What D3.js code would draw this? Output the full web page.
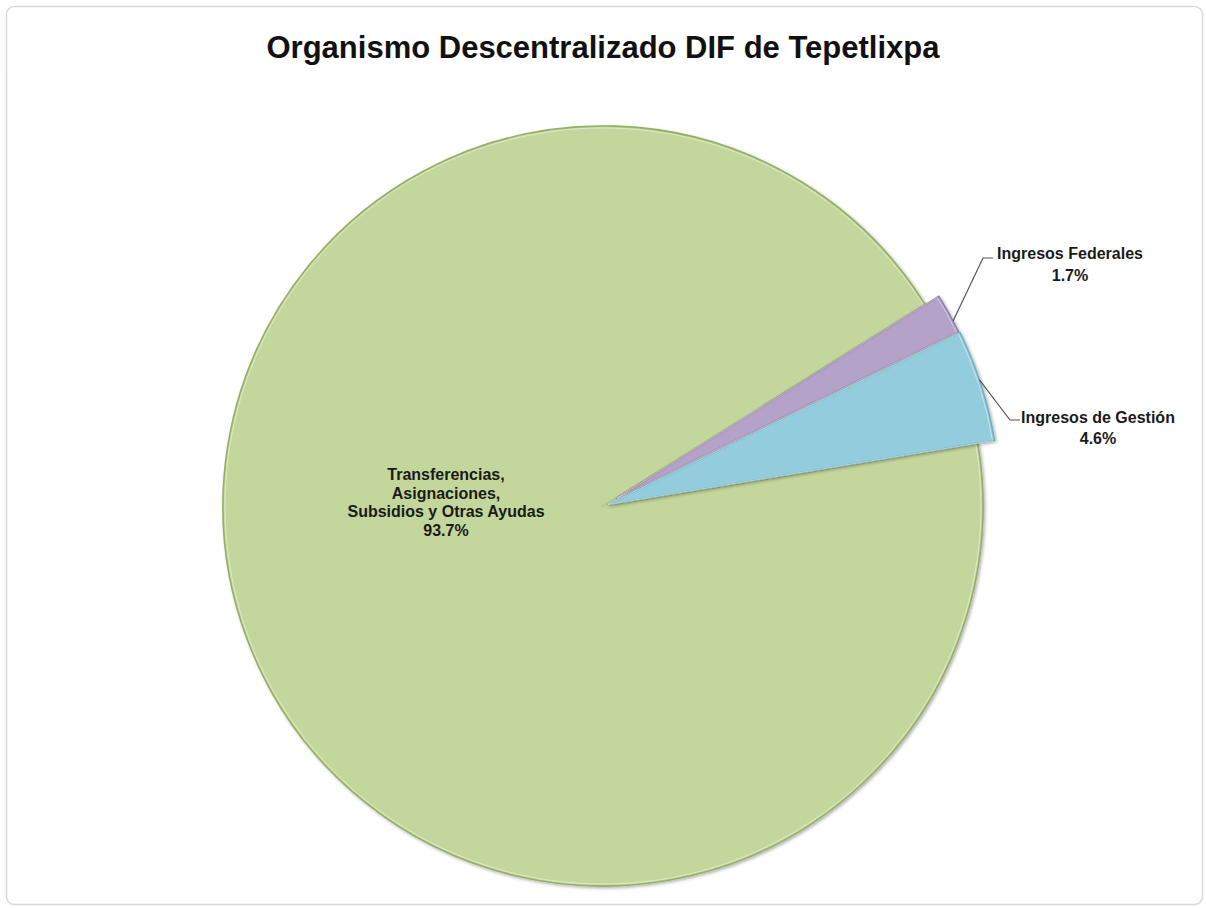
<!DOCTYPE html>
<html>
<head>
<meta charset="utf-8">
<script src="https://cdn.jsdelivr.net/npm/d3@7"></script>
<style>
  html, body { margin: 0; padding: 0; background: #ffffff; }
  svg { display: block; }
</style>
</head>
<body>
<svg id="chart" width="1206" height="908"></svg>
<script>
// ---- data ----
const title = "Organismo Descentralizado DIF de Tepetlixpa";
const categories = ["Ingresos Federales", "Ingresos de Gestión", "Transferencias, Asignaciones, Subsidios y Otras Ayudas"];
const values = [1.7, 4.6, 93.7];
const valueLabels = ["1.7%", "4.6%", "93.7%"];
const labelLines = [
  ["Ingresos Federales"],
  ["Ingresos de Gestión"],
  ["Transferencias,", "Asignaciones,", "Subsidios y Otras Ayudas"]
];

// ---- style / layout ----
const W = 1206, H = 908;
const cx = 603, cy = 506;
const fills = ["#b4a2c9", "#93cddd", "#c3d69b"];
const strokes = ["#8f7fa6", "#6fb0c2", "#97ae66"];
const explode = [16, 5, 0];
const radii = [380, 392, 380];
const startDeg = 57.9;

const svg = d3.select("#chart");

const defs = svg.append("defs");
const f = defs.append("filter").attr("id", "shadow")
  .attr("x", "-10%").attr("y", "-10%").attr("width", "120%").attr("height", "120%");
f.append("feDropShadow").attr("dx", 1.5).attr("dy", 1.5).attr("stdDeviation", 1.5)
  .attr("flood-color", "#000").attr("flood-opacity", 0.3);

// frame
svg.append("rect")
  .attr("x", 6.5).attr("y", 6.5).attr("width", W - 10).attr("height", H - 10)
  .attr("rx", 8).attr("ry", 8)
  .attr("fill", "#ffffff").attr("stroke", "#d9d9d9").attr("stroke-width", 1.5);

// title
svg.append("text")
  .attr("x", 603).attr("y", 58)
  .attr("text-anchor", "middle")
  .attr("font-family", "Liberation Sans, Arial, sans-serif")
  .attr("font-weight", "bold")
  .attr("font-size", 31)
  .attr("fill", "#111")
  .text(title);

const start = startDeg * Math.PI / 180;
const pie = d3.pie().sort(null).startAngle(start).endAngle(start + 2 * Math.PI);
const arcsData = pie(values);

const g = svg.append("g").attr("transform", `translate(${cx},${cy})`);

const order = [2, 0, 1];
order.forEach(i => {
  const d = arcsData[i];
  const mid = (d.startAngle + d.endAngle) / 2;
  const ox = Math.sin(mid) * explode[i];
  const oy = -Math.cos(mid) * explode[i];
  const arc = d3.arc().innerRadius(0).outerRadius(radii[i]);
  g.append("path")
    .attr("transform", `translate(${ox},${oy})`)
    .attr("d", arc(d))
    .attr("fill", fills[i])
    .attr("stroke", strokes[i])
    .attr("stroke-width", 1.6)
    .attr("stroke-linejoin", "round")
    .attr("filter", "url(#shadow)");
  // inner highlight
  g.append("path")
    .attr("transform", `translate(${ox},${oy})`)
    .attr("d", d3.arc().innerRadius(0).outerRadius(radii[i] - 2)(d))
    .attr("fill", "none")
    .attr("stroke", "#ffffff")
    .attr("stroke-opacity", 0.45)
    .attr("stroke-width", 1);
});

// labels
const font = "Liberation Sans, Arial, sans-serif";
function labelBlock(lines, x, y, step) {
  const t = svg.append("text")
    .attr("text-anchor", "middle")
    .attr("font-family", font)
    .attr("font-weight", "bold")
    .attr("font-size", 16)
    .attr("fill", "#1a1a1a");
  lines.forEach((ln, k) => {
    t.append("tspan").attr("x", x).attr("y", y + k * step).text(ln);
  });
}

function edgePoint(i, angleFrac) {
  const d = arcsData[i];
  const mid = (d.startAngle + d.endAngle) / 2;
  const a = d.startAngle + (d.endAngle - d.startAngle) * angleFrac;
  const ox = Math.sin(mid) * explode[i];
  const oy = -Math.cos(mid) * explode[i];
  return [cx + ox + Math.sin(a) * radii[i], cy + oy - Math.cos(a) * radii[i]];
}

const p0 = edgePoint(0, 0.7);
svg.append("polyline")
  .attr("points", [p0, [983, 258], [993, 258]].map(p => p.join(",")).join(" "))
  .attr("fill", "none").attr("stroke", "#555").attr("stroke-width", 1.2);
labelBlock(labelLines[0].concat([valueLabels[0]]), 1070, 259, 22);

const p1 = edgePoint(1, 0.45);
svg.append("polyline")
  .attr("points", [p1, [1010, 420], [1020, 420]].map(p => p.join(",")).join(" "))
  .attr("fill", "none").attr("stroke", "#555").attr("stroke-width", 1.2);
labelBlock(labelLines[1].concat([valueLabels[1]]), 1098, 423, 21);

labelBlock(labelLines[2].concat([valueLabels[2]]), 446, 480, 18.5);
</script>
</body>
</html>
